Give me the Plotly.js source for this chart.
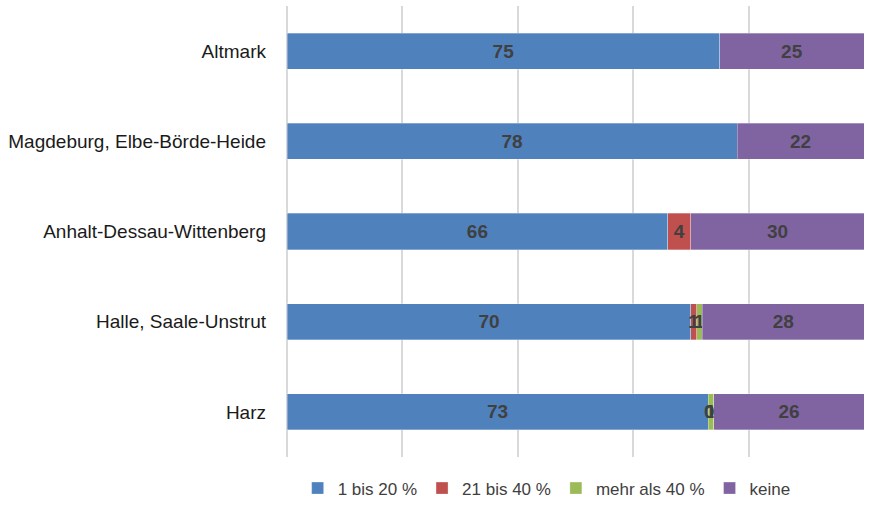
<!DOCTYPE html>
<html>
<head>
<meta charset="utf-8">
<script src="https://cdn.plot.ly/plotly-3.0.1.min.js"></script>
<style>
  html, body { margin: 0; padding: 0; background: #ffffff; }
  #chart { width: 875px; height: 513px; }
  #edge { position: absolute; left: 4px; top: 0; width: 1px; height: 513px; background: #d9d9d9; }
</style>
</head>
<body>
<div id="edge"></div>
<div id="chart"></div>
<script>
const categories = ["Altmark", "Magdeburg, Elbe-Börde-Heide", "Anhalt-Dessau-Wittenberg", "Halle, Saale-Unstrut", "Harz"];
const seriesNames = ["1 bis 20 %", "21 bis 40 %", "mehr als 40 %", "keine"];
const v1bis20 = [75, 78, 66, 70, 73];
const v21bis40 = [null, null, 4, 1, 0];
const vMehr40 = [null, null, null, 1, 1];
const vKeine = [25, 22, 30, 28, 26];
const colors = ["#4F81BD", "#C0504D", "#9BBB59", "#8064A2"];

const fam = "'Liberation Sans Narrow', 'Arial Narrow', 'Liberation Sans', Arial, sans-serif";
const allValues = [v1bis20, v21bis40, vMehr40, vKeine];
const labelFont = { family: fam, size: 19, color: "#404040", weight: "bold" };

const traces = allValues.map((vals, i) => ({
  type: "bar",
  orientation: "h",
  name: seriesNames[i],
  y: categories,
  x: vals,
  text: vals.map(v => (v === null ? "" : String(v))),
  texttemplate: "%{text}",
  textposition: "inside",
  insidetextanchor: "middle",
  textangle: 0,
  constraintext: "none",
  cliponaxis: false,
  textfont: labelFont,
  marker: { color: colors[i], line: { color: "rgba(255,255,255,0.6)", width: 0.5 } },
  hoverinfo: "x+y+name"
}));

// labels for zero-valued segments (a zero-width bar carries no inside text)
const annotations = [];
allValues.forEach((vals, i) => {
  vals.forEach((v, j) => {
    if (v === 0) {
      let start = 0;
      for (let k = 0; k < i; k++) start += (allValues[k][j] || 0);
      annotations.push({
        x: start, y: categories[j], xref: "x", yref: "y",
        text: String(v), showarrow: false, font: labelFont,
        xanchor: "center", yanchor: "middle", xshift: 1
      });
    }
  });
});

const layout = {
  width: 875,
  height: 513,
  margin: { l: 287, r: 11, t: 6, b: 53, pad: 0 },
  barmode: "stack",
  bargap: 0.6,
  paper_bgcolor: "#ffffff",
  plot_bgcolor: "#ffffff",
  font: { family: fam, size: 19, color: "#000000" },
  uniformtext: { mode: "show", minsize: 19 },
  annotations: annotations,
  xaxis: {
    range: [0, 100],
    dtick: 20,
    tick0: 0,
    showticklabels: false,
    showgrid: true,
    gridcolor: "#d9d9d9",
    gridwidth: 2,
    zeroline: true,
    zerolinecolor: "#d9d9d9",
    zerolinewidth: 2,
    showline: false,
    ticks: "",
    fixedrange: true
  },
  yaxis: {
    categoryorder: "array",
    categoryarray: categories,
    autorange: "reversed",
    showgrid: false,
    zeroline: false,
    showline: false,
    ticks: "",
    ticklabelstandoff: 20,
    tickfont: { family: fam, size: 19, color: "#1a1a1a" },
    fixedrange: true
  },
  legend: {
    orientation: "h",
    x: 0.45,
    xanchor: "center",
    y: -0.03,
    yanchor: "top",
    font: { family: fam, size: 17, color: "#404040" },
    itemwidth: 30,
    traceorder: "normal"
  },
  showlegend: true
};

Plotly.newPlot("chart", traces, layout, { displayModeBar: false, staticPlot: true });
</script>
</body>
</html>
